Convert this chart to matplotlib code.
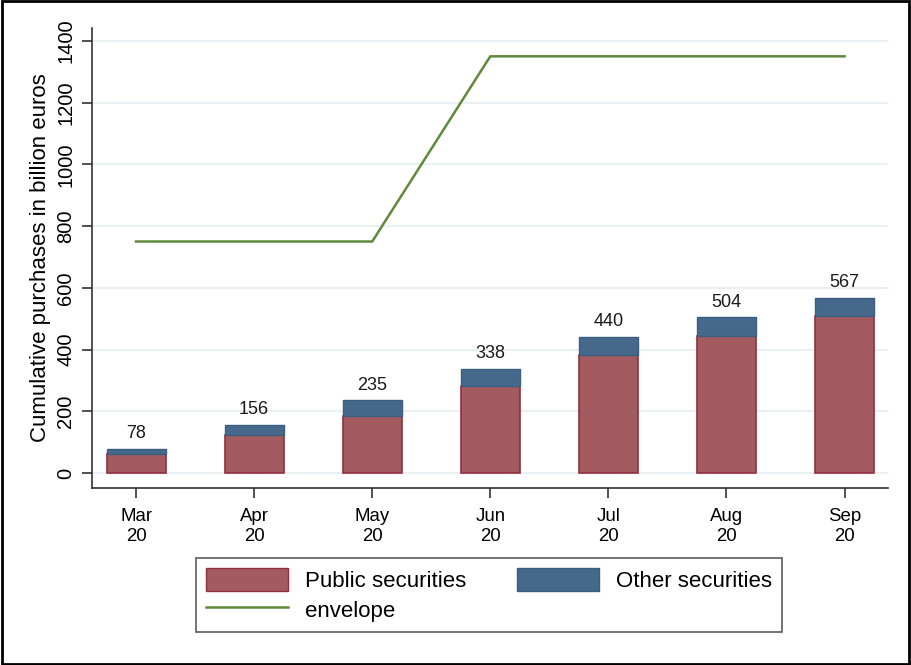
import matplotlib
matplotlib.use("Agg")
import matplotlib.pyplot as plt
from matplotlib.patches import Patch, Rectangle
from matplotlib.lines import Line2D

plt.rcParams['font.family'] = ['Liberation Sans', 'DejaVu Sans']

months = ["Mar\n20", "Apr\n20", "May\n20", "Jun\n20", "Jul\n20", "Aug\n20", "Sep\n20"]
public = [62, 123, 185, 282, 381, 445, 509]
total = [78, 156, 235, 338, 440, 504, 567]
other = [t - p for t, p in zip(total, public)]
envelope = [750, 750, 750, 1350, 1350, 1350, 1350]
yticks = [0, 200, 400, 600, 800, 1000, 1200, 1400]

red = "#a35b60"
red_edge = "#922f3e"
blue = "#46698b"
blue_edge = "#3a5d80"
green = "#5f8a3c"

fig = plt.figure(figsize=(9.11, 6.65), dpi=100)
ax = fig.add_axes([0.101, 0.266, 0.874, 0.692])

x = list(range(len(months)))
ax.bar(x, public, width=0.5, color=red, edgecolor=red_edge, linewidth=1.2, zorder=3)
ax.bar(x, other, bottom=public, width=0.5, color=blue, edgecolor=blue_edge, linewidth=1.0, zorder=3)
ax.plot(x, envelope, color=green, linewidth=1.8, zorder=4)

for xi, t in zip(x, total):
    ax.text(xi, t + 22, str(t), ha='center', va='bottom', fontsize=13, color='#1a1a1a')

ax.set_xlim(-0.373, 6.37)
ax.set_ylim(-49, 1442)
ax.set_yticks(yticks)
ax.set_yticklabels([str(v) for v in yticks], rotation=90, va='center', fontsize=14.5)
ax.set_xticks(x)
ax.set_xticklabels(months, fontsize=13.4, linespacing=1.25)
ax.set_ylabel("Cumulative purchases in billion euros", fontsize=16, labelpad=4)

ax.grid(axis='y', color='#e8f0f2', linewidth=1.5, zorder=0)
ax.set_axisbelow(True)
for s in ['top', 'right']:
    ax.spines[s].set_visible(False)
for s in ['left', 'bottom']:
    ax.spines[s].set_color('#333333')
    ax.spines[s].set_linewidth(1.2)
ax.tick_params(axis='both', direction='out', length=7, width=1.2, color='#333333')
ax.tick_params(axis='y', pad=5)
ax.tick_params(axis='x', pad=7)

handles = [Patch(facecolor=red, edgecolor=red_edge, label="Public securities"),
           Line2D([0], [0], color=green, linewidth=1.8, label="envelope"),
           Patch(facecolor=blue, edgecolor=blue_edge, label="Other securities")]
leg = fig.legend(handles=handles, ncol=2, loc='center',
                 bbox_to_anchor=(196/911, 1 - 632/665, (782-196)/911, (632-558)/665),
                 mode='expand', fontsize=16, frameon=True, fancybox=False,
                 edgecolor='#333333', handlelength=3.7, handleheight=1.2,
                 handletextpad=0.75, columnspacing=1.6, labelspacing=0.25,
                 borderpad=0.45, borderaxespad=0)
leg.get_frame().set_linewidth(1.2)

fig.patches.append(Rectangle((0.002, 0.002), 0.996, 0.996, transform=fig.transFigure,
                             fill=False, edgecolor='black', linewidth=2.0))

fig.savefig("out.png", dpi=100)
